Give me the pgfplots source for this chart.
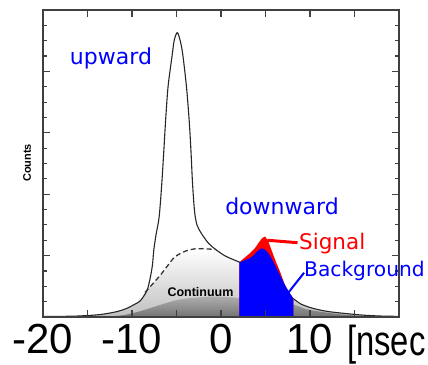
\documentclass[border=0pt]{standalone}
\usepackage{pgfplots}
\pgfplotsset{compat=1.18}
\usepackage{graphicx}
\usepackage{fontspec}
\setmainfont{DejaVu Sans}
\newfontfamily\lib{Liberation Sans}
\begin{document}
\begin{tikzpicture}[x=1pt,y=1pt]
\begin{axis}[
  at={(43pt,47pt)}, anchor=south west,
  scale only axis, width=356pt, height=307pt,
  xmin=-20, xmax=20, ymin=0, ymax=5,
  xtick={-20,-15,...,20},
  xticklabels={-20,,-10,,0,,10,,},
  ytick={0,1,2,3,4,5}, yticklabels={},
  minor y tick num=3,
  tick align=inside,
  major tick length=7pt, minor tick length=4.5pt,
  tick style={draw=black!75, line width=1.1pt},
  axis line style={draw=black!75, line width=1.4pt},
  xticklabel style={font=\lib\fontsize{42}{42}\selectfont, inner sep=0pt, yshift=-7pt, anchor=north},
  axis on top,
]
% light continuum envelope
\addplot[draw=none, top color=white, bottom color=black!25, smooth] coordinates {
(-20,0.01) (-17,0.012) (-15.5,0.02) (-14.35,0.03) (-13.3,0.045) (-12.47,0.065) (-11.5,0.095) (-10.6,0.14) (-9.66,0.21) (-9.1,0.26) (-8.54,0.40)
(-7.61,0.55) (-6.66,0.71) (-5.92,0.85) (-5.17,0.98) (-4.04,1.07) (-2.92,1.11) (-1.8,1.11) (-0.6,1.10)
(0.4,1.00) (1.3,0.94) (2.13,0.89) (5,1.0) (8.12,0.30) (9,0.21) (10.37,0.14) (12,0.09) (14.12,0.055) (16,0.03) (17.87,0.016) (20,0.01)
} \closedcycle;
% dark continuum
\addplot[draw=none, top color=black!32, bottom color=black!55, smooth] coordinates {
(-14,0) (-12,0.015) (-11,0.03) (-9.7,0.07) (-8.5,0.12) (-7.4,0.17) (-6.1,0.23) (-5.17,0.27) (-4,0.30) (-2.92,0.315) (-1.5,0.33) (0,0.33) (1,0.32) (2.13,0.31) (5,0.26) (8.12,0.2) (9.5,0.13) (11,0.09) (13,0.05) (14.5,0.03) (16.5,0.012) (18,0)
} \closedcycle;
% signal
\addplot[draw=none, fill=red, smooth, tension=0.3] coordinates {
(2.06,0.89) (2.6,0.96) (3.26,1.04) (3.8,1.12) (4.19,1.20) (4.55,1.27) (4.94,1.31) (5.31,1.23) (5.6,1.12) (5.88,1.01) (6.25,0.87) (6.63,0.74) (7.19,0.52) (7.75,0.38) (8.12,0.31)
} \closedcycle;
% background
\addplot[draw=none, fill=blue, smooth] coordinates {
(2.06,0.89) (2.6,0.92) (3.26,0.96) (3.7,1.01) (4.01,1.06) (4.57,1.12) (5.13,1.07) (5.5,1.0) (5.88,0.90) (6.63,0.68) (7.38,0.47) (8.12,0.30)
} \closedcycle;
% total curve
\addplot[black!85, line width=1.1pt, smooth] coordinates {
(-20,0.01) (-17,0.012) (-15.5,0.02) (-14.35,0.03) (-13.3,0.045) (-12.47,0.065) (-11.5,0.095) (-10.6,0.14) (-9.66,0.21) (-9.1,0.26) (-8.5,0.38) (-8.2,0.48) (-7.92,0.66) (-7.7,0.85) (-7.55,1.09) (-7.3,1.34) (-6.95,1.63) (-6.65,2.18) (-6.42,2.72) (-6.22,3.21) (-5.95,3.75) (-5.5,4.25) (-5.25,4.51) (-4.91,4.63) (-4.6,4.51) (-4.3,4.28) (-3.88,3.75) (-3.58,3.21) (-3.38,2.72) (-3.2,2.18) (-2.97,1.72) (-2.7,1.5) (-2.2,1.36) (-1.4,1.20) (-0.6,1.10) (0.4,1.00) (1.3,0.94) (2.13,0.89)
};
\addplot[black!85, line width=1.1pt, smooth] coordinates {
(8.12,0.30) (9,0.21) (10.37,0.14) (12,0.09) (14.12,0.055) (16,0.03) (17.87,0.016) (20,0.01)
};
% dashed continuum
\addplot[black!80, line width=1.3pt, dash pattern=on 5pt off 3pt, smooth] coordinates {
(-8.54,0.40) (-7.61,0.55) (-6.66,0.71) (-5.92,0.85) (-5.17,0.98) (-4.04,1.07) (-2.92,1.11) (-1.8,1.11) (-0.6,1.10)
};
\draw[red, line width=3pt] (axis cs:5.2,1.25) -- (axis cs:8.6,1.21);
\draw[blue, line width=2pt] (axis cs:7.53,0.39) -- (axis cs:9.33,0.72);
\end{axis}
\node[font=\lib\bfseries\fontsize{12.5}{12.5}\selectfont, inner sep=0pt] at (200.5,72) {Continuum};
\node[font=\lib\bfseries\fontsize{11}{11}\selectfont, rotate=90, inner sep=0pt] at (27,201) {Counts};
\node[blue, font=\fontsize{22}{22}\selectfont, anchor=base, inner sep=0pt] at (111,299) {upward};
\node[blue, font=\fontsize{22}{22}\selectfont, anchor=base, inner sep=0pt] at (282,149) {downward};
\node[red, font=\fontsize{21.5}{21.5}\selectfont, anchor=base west, inner sep=0pt] at (299,114) {Signal};
\node[blue, font=\fontsize{20.2}{20.2}\selectfont, anchor=base west, inner sep=0pt] at (304,87) {Background};
\node[font=\lib\fontsize{42}{42}\selectfont, anchor=base west, inner sep=0pt] at (347,9) {\scalebox{0.78}[1]{[nsec}};
\pgfresetboundingbox
\path[use as bounding box] (0,0) rectangle (428,364);
\end{tikzpicture}
\end{document}
